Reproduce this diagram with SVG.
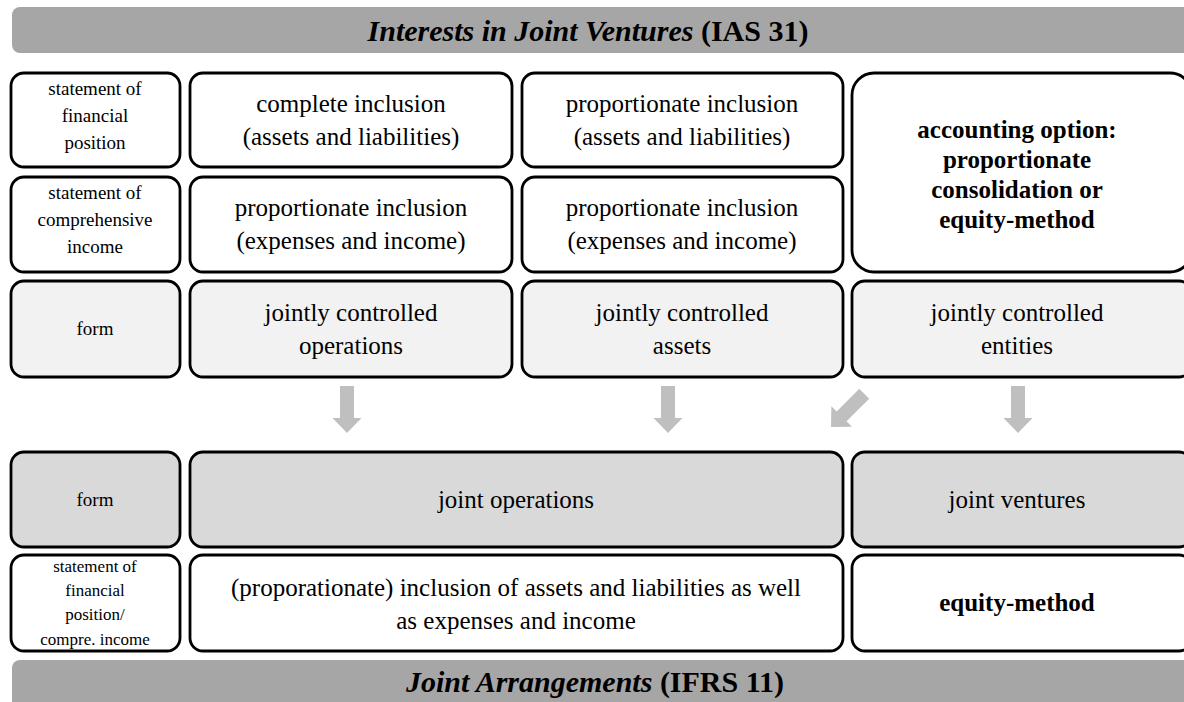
<svg xmlns="http://www.w3.org/2000/svg" width="1184" height="702" viewBox="0 0 1184 702">
<style>
.box{stroke:#000;stroke-width:2.8;fill:#fff}
.g1{fill:#f2f2f2}
.g2{fill:#d9d9d9}
.ban{fill:#a6a6a6}
text{font-family:"Liberation Serif","DejaVu Serif",serif;fill:#000;text-anchor:middle}
.m{font-size:25px}
.l{font-size:19px}
.s{font-size:17px}
.b{font-weight:bold}
.bt{font-size:30px;font-weight:bold}
.arr{fill:#bfbfbf}
</style>
<defs>
<path id="arrow" d="M-7,-47 L7,-47 L7,-15 L14.5,-15 L0,0 L-14.5,-15 L-7,-15 Z"/>
</defs>
<g id="banner-top">
<rect class="ban" x="12" y="7" width="1200" height="46" rx="8"/>
<text class="bt" x="588" y="41"><tspan font-style="italic">Interests in Joint Ventures</tspan> (IAS 31)</text>
</g>
<g id="lbl-sfp">
<rect class="box" x="11" y="73" width="169" height="94" rx="13"/>
<text class="l" x="95" y="95">statement of</text>
<text class="l" x="95" y="122">financial</text>
<text class="l" x="95" y="149">position</text>
</g>
<g id="a1">
<rect class="box" x="190" y="73" width="322" height="94" rx="13"/>
<text class="m" x="351" y="112">complete inclusion</text>
<text class="m" x="351" y="145">(assets and liabilities)</text>
</g>
<g id="b1">
<rect class="box" x="522" y="73" width="321" height="94" rx="13"/>
<text class="m" x="682" y="112">proportionate inclusion</text>
<text class="m" x="682" y="145">(assets and liabilities)</text>
</g>
<g id="c12">
<rect class="box" x="852" y="73" width="340" height="199" rx="22"/>
<text class="m b" x="1017" y="138">accounting option:</text>
<text class="m b" x="1017" y="168">proportionate</text>
<text class="m b" x="1017" y="198">consolidation or</text>
<text class="m b" x="1017" y="228">equity-method</text>
</g>
<g id="lbl-sci">
<rect class="box" x="11" y="177" width="169" height="95" rx="13"/>
<text class="l" x="95" y="199">statement of</text>
<text class="l" x="95" y="226">comprehensive</text>
<text class="l" x="95" y="253">income</text>
</g>
<g id="a2">
<rect class="box" x="190" y="177" width="322" height="95" rx="13"/>
<text class="m" x="351" y="216">proportionate inclusion</text>
<text class="m" x="351" y="249">(expenses and income)</text>
</g>
<g id="b2">
<rect class="box" x="522" y="177" width="321" height="95" rx="13"/>
<text class="m" x="682" y="216">proportionate inclusion</text>
<text class="m" x="682" y="249">(expenses and income)</text>
</g>
<g id="lbl-form1">
<rect class="box g1" x="11" y="281" width="169" height="96" rx="13"/>
<text class="l" x="95" y="335">form</text>
</g>
<g id="a3">
<rect class="box g1" x="190" y="281" width="322" height="96" rx="13"/>
<text class="m" x="351" y="321">jointly controlled</text>
<text class="m" x="351" y="354">operations</text>
</g>
<g id="b3">
<rect class="box g1" x="522" y="281" width="321" height="96" rx="13"/>
<text class="m" x="682" y="321">jointly controlled</text>
<text class="m" x="682" y="354">assets</text>
</g>
<g id="c3">
<rect class="box g1" x="852" y="281" width="340" height="96" rx="13"/>
<text class="m" x="1017" y="321">jointly controlled</text>
<text class="m" x="1017" y="354">entities</text>
</g>
<g id="connectors">
<use href="#arrow" class="arr" transform="translate(347,433)"/>
<use href="#arrow" class="arr" transform="translate(668,433)"/>
<use href="#arrow" class="arr" transform="translate(831,427) rotate(45)"/>
<use href="#arrow" class="arr" transform="translate(1018,433)"/>
</g>
<g id="lbl-form2">
<rect class="box g2" x="11" y="452" width="169" height="95" rx="13"/>
<text class="l" x="95" y="506">form</text>
</g>
<g id="jo">
<rect class="box g2" x="190" y="452" width="653" height="95" rx="13"/>
<text class="m" x="516" y="508">joint operations</text>
</g>
<g id="jv">
<rect class="box g2" x="852" y="452" width="340" height="95" rx="13"/>
<text class="m" x="1017" y="508">joint ventures</text>
</g>
<g id="lbl-sfp2">
<rect class="box" x="11" y="555" width="169" height="96" rx="13"/>
<text class="s" x="95" y="572">statement of</text>
<text class="s" x="95" y="596">financial</text>
<text class="s" x="95" y="620">position/</text>
<text class="s" x="95" y="645">compre. income</text>
</g>
<g id="incl">
<rect class="box" x="190" y="555" width="653" height="96" rx="13"/>
<text class="m" x="516" y="596">(proporationate) inclusion of assets and liabilities as well</text>
<text class="m" x="516" y="629">as expenses and income</text>
</g>
<g id="eq">
<rect class="box" x="852" y="555" width="340" height="96" rx="13"/>
<text class="m b" x="1017" y="611">equity-method</text>
</g>
<g id="banner-bottom">
<rect class="ban" x="12" y="660" width="1200" height="60" rx="8"/>
<text class="bt" x="595" y="692"><tspan font-style="italic">Joint Arrangements</tspan> (IFRS 11)</text>
</g>
</svg>
